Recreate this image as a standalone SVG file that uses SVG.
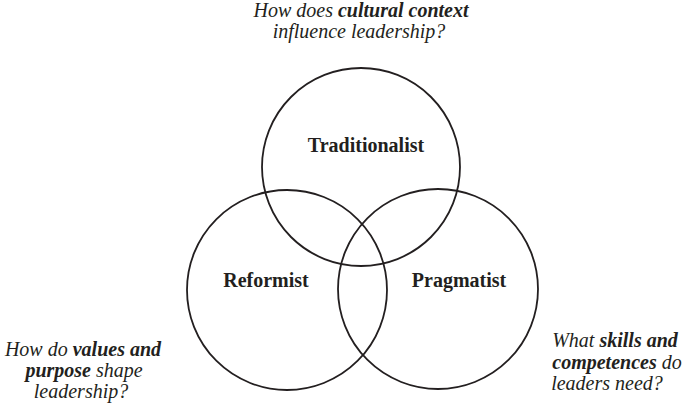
<svg xmlns="http://www.w3.org/2000/svg" width="685" height="407" viewBox="0 0 685 407">
<style>
.c{fill:none;stroke:#231f20;stroke-width:1.8}
.lbl{font-family:'Liberation Serif',serif;font-weight:bold;font-size:20px;fill:#231f20;text-anchor:middle}
.q{font-family:'Liberation Serif',serif;font-style:italic;font-size:20px;fill:#231f20;text-anchor:middle}
.b{font-weight:bold}
</style>
<rect width="685" height="407" fill="#ffffff"/>
<g id="traditionalist">
<circle class="c" cx="361" cy="167" r="99"/>
<text class="lbl" x="366" y="152">Traditionalist</text>
</g>
<g id="reformist">
<circle class="c" cx="287" cy="290" r="100"/>
<text class="lbl" x="266" y="287">Reformist</text>
</g>
<g id="pragmatist">
<circle class="c" cx="438" cy="289" r="100"/>
<text class="lbl" x="459" y="287">Pragmatist</text>
</g>
<g id="q-top">
<text class="q" x="361" y="17">How does <tspan class="b">cultural context</tspan></text>
<text class="q" x="359" y="38">influence leadership?</text>
</g>
<g id="q-left">
<text class="q" x="83" y="356">How do <tspan class="b">values and</tspan></text>
<text class="q" x="84" y="377"><tspan class="b">purpose</tspan> shape</text>
<text class="q" x="81" y="398">leadership?</text>
</g>
<g id="q-right">
<text class="q" x="615" y="347">What <tspan class="b">skills and</tspan></text>
<text class="q" x="617" y="369"><tspan class="b">competences</tspan> do</text>
<text class="q" x="607" y="390">leaders need?</text>
</g>
<g id="connectors"/>
</svg>
